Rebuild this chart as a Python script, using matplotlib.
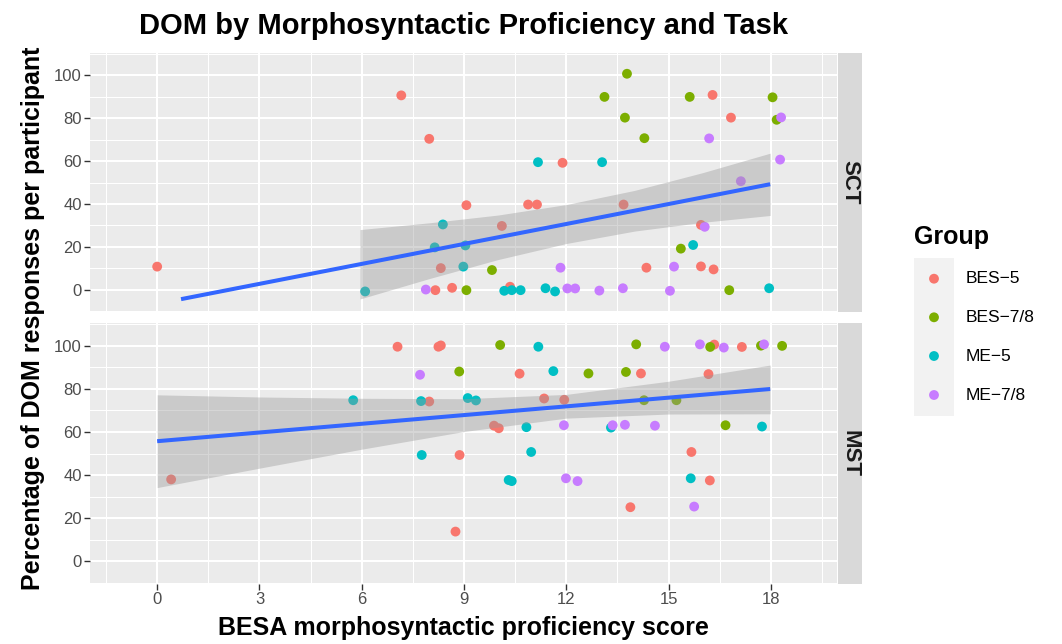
import matplotlib
matplotlib.use("Agg")
import matplotlib.pyplot as plt
from matplotlib.patches import Rectangle
import numpy as np

plt.rcParams['font.family'] = ['Liberation Sans', 'DejaVu Sans']

groups = ["BES\u22125", "BES\u22127/8", "ME\u22125", "ME\u22127/8"]
colors = ["#F8766D", "#7CAE00", "#00BFC4", "#C77CFF"]

# ---- SCT task (x = BESA score, y = % DOM) ----
sct_bes5_x = [0.0, 7.16, 7.98, 9.07, 8.32, 8.16, 8.65, 10.11, 10.88, 11.14, 11.89, 13.68, 16.29, 16.83, 15.95, 14.35, 15.95, 16.32, 10.35]
sct_bes5_y = [10.7, 90.7, 70.4, 39.4, 10.0, -0.3, 0.8, 29.7, 39.7, 39.7, 59.2, 39.7, 90.9, 80.3, 30.2, 10.2, 10.8, 9.4, 1.3]
sct_bes78_x = [9.07, 9.82, 13.12, 13.78, 13.72, 14.29, 15.62, 18.05, 18.17, 15.36, 16.78]
sct_bes78_y = [-0.3, 9.1, 90.0, 100.8, 80.3, 70.7, 90.0, 89.8, 79.3, 19.1, -0.3]
sct_me5_x = [8.38, 8.14, 9.04, 8.98, 6.10, 11.17, 13.05, 15.72, 10.18, 10.40, 10.66, 11.39, 11.67, 17.95]
sct_me5_y = [30.4, 19.7, 20.6, 10.7, -0.9, 59.5, 59.5, 20.8, -0.6, -0.3, -0.3, 0.6, -0.9, 0.6]
sct_me78_x = [7.88, 16.19, 18.30, 18.27, 17.12, 16.06, 11.83, 15.16, 12.03, 12.26, 12.97, 13.66, 15.04]
sct_me78_y = [0.0, 70.6, 80.4, 60.7, 50.6, 29.3, 10.2, 10.7, 0.5, 0.5, -0.5, 0.6, -0.6]

# ---- MST task ----
mst_bes5_x = [7.05, 8.25, 8.32, 7.98, 8.87, 0.41, 8.75, 10.63, 14.19, 16.34, 17.15, 16.17, 11.35, 11.94, 9.88, 10.02, 15.67, 16.21, 13.88]
mst_bes5_y = [99.5, 99.5, 100.1, 74.1, 49.3, 38.0, 13.8, 87.0, 87.1, 100.5, 99.4, 86.8, 75.5, 74.9, 62.9, 61.7, 50.7, 37.5, 25.1]
mst_bes78_x = [8.86, 10.06, 12.65, 13.75, 14.05, 16.22, 17.71, 18.33, 14.28, 15.23, 16.67]
mst_bes78_y = [88.0, 100.3, 87.1, 87.8, 100.6, 99.4, 100.0, 99.9, 74.7, 74.7, 63.1]
mst_me5_x = [5.75, 7.74, 9.11, 9.35, 7.76, 11.18, 11.62, 10.83, 13.31, 17.74, 10.97, 10.31, 10.40, 15.65]
mst_me5_y = [74.7, 74.3, 75.7, 74.6, 49.3, 99.5, 88.2, 62.2, 62.0, 62.5, 50.7, 37.7, 37.2, 38.5]
mst_me78_x = [7.71, 14.89, 15.92, 16.62, 17.80, 11.93, 13.36, 13.72, 14.60, 11.99, 12.33, 15.75]
mst_me78_y = [86.5, 99.5, 100.6, 99.1, 100.6, 63.1, 63.1, 63.3, 62.9, 38.5, 37.2, 25.4]

# ---- fitted lines (lm) and confidence bands ----
sct_line_x = [0.70, 17.98]
sct_line_y = [-4.5, 49.2]
sct_band_x = [5.95, 8.0, 10.0, 12.0, 14.0, 16.0, 17.98]
sct_band_lo = [-4.4, 5.2, 14.0, 21.5, 27.3, 31.4, 34.6]
sct_band_hi = [28.0, 31.2, 34.8, 39.7, 46.3, 54.6, 63.7]

mst_line_x = [0.0, 17.98]
mst_line_y = [55.7, 79.9]
mst_band_x = [0.0, 3.0, 6.0, 9.0, 12.0, 15.0, 17.98]
mst_band_lo = [34.2, 43.2, 52.0, 60.2, 66.4, 68.3, 68.4]
mst_band_hi = [77.2, 76.2, 75.6, 75.4, 77.4, 83.5, 91.0]

x_ticks = [0, 3, 6, 9, 12, 15, 18]
y_ticks = [0, 20, 40, 60, 80, 100]

W, H = 1062, 644
fig = plt.figure(figsize=(W / 100, H / 100), dpi=100)

def fx(px):
    return px / W

def fy(py):
    return 1 - py / H

panels = [
    ("SCT", 53, 312,
     [(sct_bes5_x, sct_bes5_y), (sct_bes78_x, sct_bes78_y), (sct_me5_x, sct_me5_y), (sct_me78_x, sct_me78_y)],
     (sct_line_x, sct_line_y), (sct_band_x, sct_band_lo, sct_band_hi)),
    ("MST", 323, 584,
     [(mst_bes5_x, mst_bes5_y), (mst_bes78_x, mst_bes78_y), (mst_me5_x, mst_me5_y), (mst_me78_x, mst_me78_y)],
     (mst_line_x, mst_line_y), (mst_band_x, mst_band_lo, mst_band_hi)),
]

left, right = 90, 837
strip_l, strip_r = 838, 862
axes = []
for i, (name, top, bot, pts, line, band) in enumerate(panels):
    ax = fig.add_axes([fx(left), fy(bot), fx(right - left), (bot - top) / H])
    axes.append(ax)
    ax.set_facecolor("#EBEBEB")
    ax.set_xlim(-1.97, 19.94)
    ax.set_ylim(-10.5, 110.5)
    ax.set_xticks(x_ticks)
    ax.set_yticks(y_ticks)
    ax.set_xticks([-1.5, 1.5, 4.5, 7.5, 10.5, 13.5, 16.5, 19.5], minor=True)
    ax.set_yticks([-10, 10, 30, 50, 70, 90, 110], minor=True)
    ax.grid(which="major", color="white", linewidth=1.5)
    ax.grid(which="minor", color="white", linewidth=0.75)
    ax.set_axisbelow(True)
    for s in ax.spines.values():
        s.set_visible(False)
    ax.tick_params(which="minor", length=0)
    ax.tick_params(which="major", length=4, width=1.0, color="#333333",
                   labelcolor="#4D4D4D", labelsize=12, pad=2)
    if i == 0:
        ax.tick_params(axis="x", which="both", length=0, labelbottom=False)
    for (xs, ys), c in zip(pts, colors):
        ax.scatter(xs, ys, s=50, color=c, edgecolors="none", zorder=3)
    bx, blo, bhi = band
    ax.fill_between(bx, blo, bhi, color="#999999", alpha=0.4, linewidth=0, zorder=4)
    ax.plot(line[0], line[1], color="#3366FF", linewidth=2.9, zorder=5,
            solid_capstyle="butt")
    # strip
    sax = fig.add_axes([fx(strip_l), fy(bot), fx(strip_r - strip_l), (bot - top) / H])
    sax.set_facecolor("#D9D9D9")
    sax.set_xticks([]); sax.set_yticks([])
    for s in sax.spines.values():
        s.set_visible(False)
    sax.text(0.5, 0.5, name, rotation=-90, ha="center", va="center",
             fontsize=16, fontweight="bold", color="#1A1A1A", transform=sax.transAxes)

# titles
fig.text(fx((left + right) / 2), fy(26), "DOM by Morphosyntactic Proficiency and Task",
         ha="center", va="center", fontsize=21, fontweight="bold")
fig.text(fx((left + right) / 2), fy(628), "BESA morphosyntactic proficiency score",
         ha="center", va="center", fontsize=18, fontweight="bold")
fig.text(fx(33), fy(318), "Percentage of DOM responses per participant",
         ha="center", va="center", rotation=90, fontsize=18, fontweight="bold")

# legend
lax = fig.add_axes([0, 0, 1, 1], zorder=-1)
lax.set_xlim(0, W); lax.set_ylim(H, 0)
lax.axis("off")
lax.text(914, 237, "Group", ha="left", va="center", fontsize=18, fontweight="bold")
lax.add_patch(Rectangle((914, 258), 40, 158, facecolor="#F2F2F2", edgecolor="none"))
key_y = [278.7, 317.3, 356.0, 395.0]
for g, c, ky in zip(groups, colors, key_y):
    lax.scatter([934], [ky], s=50, color=c, edgecolors="none")
    lax.text(966, ky, g, ha="left", va="center", fontsize=12.5)

fig.savefig("out.png", dpi=100)
